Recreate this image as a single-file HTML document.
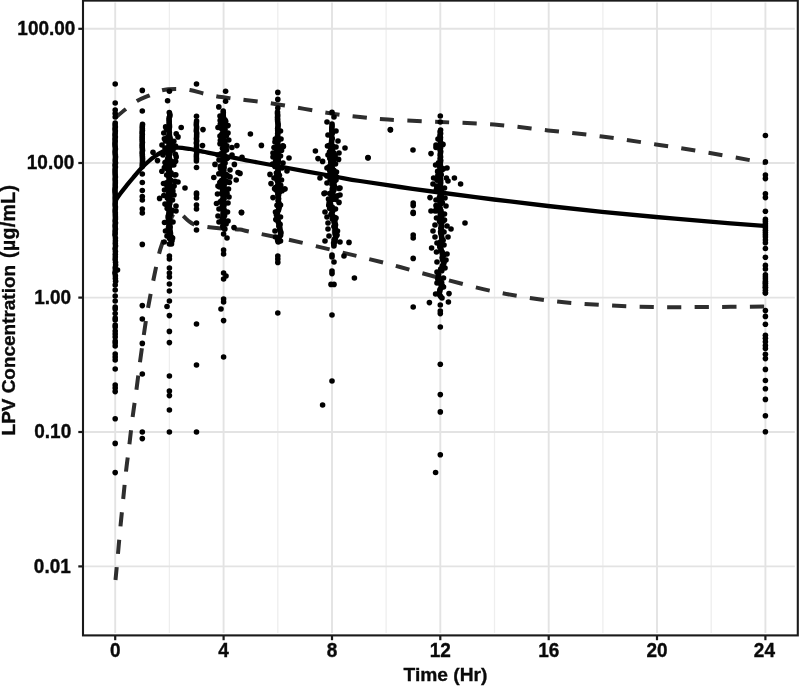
<!DOCTYPE html>
<html lang="en"><head><meta charset="utf-8"><title>LPV Concentration vs Time</title>
<style>html,body{margin:0;padding:0;background:#fff}body{width:800px;height:686px;overflow:hidden}svg{display:block}text{font-family:"Liberation Sans",Arial,Helvetica,sans-serif;font-weight:bold;fill:#0a0a0a;stroke:#0a0a0a;stroke-width:0.35px}</style></head><body>
<svg width="800" height="686" viewBox="0 0 800 686">
<rect width="800" height="686" fill="#fff"/>
<g><line x1="169.4" y1="2.5" x2="169.4" y2="633" stroke="#eeeeee" stroke-width="1.3"/><line x1="277.8" y1="2.5" x2="277.8" y2="633" stroke="#eeeeee" stroke-width="1.3"/><line x1="386.1" y1="2.5" x2="386.1" y2="633" stroke="#eeeeee" stroke-width="1.3"/><line x1="494.5" y1="2.5" x2="494.5" y2="633" stroke="#eeeeee" stroke-width="1.3"/><line x1="602.9" y1="2.5" x2="602.9" y2="633" stroke="#eeeeee" stroke-width="1.3"/><line x1="711.2" y1="2.5" x2="711.2" y2="633" stroke="#eeeeee" stroke-width="1.3"/><line x1="115.2" y1="2.5" x2="115.2" y2="633" stroke="#e3e3e3" stroke-width="1.9"/><line x1="223.6" y1="2.5" x2="223.6" y2="633" stroke="#e3e3e3" stroke-width="1.9"/><line x1="332.0" y1="2.5" x2="332.0" y2="633" stroke="#e3e3e3" stroke-width="1.9"/><line x1="440.3" y1="2.5" x2="440.3" y2="633" stroke="#e3e3e3" stroke-width="1.9"/><line x1="548.7" y1="2.5" x2="548.7" y2="633" stroke="#e3e3e3" stroke-width="1.9"/><line x1="657.0" y1="2.5" x2="657.0" y2="633" stroke="#e3e3e3" stroke-width="1.9"/><line x1="765.4" y1="2.5" x2="765.4" y2="633" stroke="#e3e3e3" stroke-width="1.9"/><line x1="84.3" y1="28.8" x2="794.8" y2="28.8" stroke="#e3e3e3" stroke-width="1.9"/><line x1="84.3" y1="163.0" x2="794.8" y2="163.0" stroke="#e3e3e3" stroke-width="1.9"/><line x1="84.3" y1="297.6" x2="794.8" y2="297.6" stroke="#e3e3e3" stroke-width="1.9"/><line x1="84.3" y1="432.0" x2="794.8" y2="432.0" stroke="#e3e3e3" stroke-width="1.9"/><line x1="84.3" y1="566.4" x2="794.8" y2="566.4" stroke="#e3e3e3" stroke-width="1.9"/></g>
<path d="M115.0,118.0C116.8,116.5 122.3,111.8 126.0,109.0C129.7,106.2 133.2,103.2 137.0,101.0C140.8,98.8 144.8,97.4 149.0,95.6C153.2,93.8 157.5,91.4 162.0,90.3C166.5,89.2 171.3,89.0 176.0,89.0C180.7,89.0 185.3,89.2 190.0,90.0C194.7,90.8 199.7,92.6 204.0,93.6C208.3,94.6 211.7,95.4 216.0,96.2C220.3,97.0 225.2,97.6 230.0,98.2C234.8,98.8 237.0,99.0 245.0,100.0C253.0,101.0 263.5,102.1 278.0,104.4C292.5,106.7 318.3,111.5 332.0,113.6C345.7,115.7 350.7,116.0 360.0,117.0C369.3,118.0 374.7,118.8 388.0,119.6C401.3,120.4 422.3,121.2 440.0,122.0C457.7,122.8 476.0,123.1 494.0,124.5C512.0,125.9 530.0,128.4 548.0,130.4C566.0,132.4 584.0,134.2 602.0,136.5C620.0,138.8 638.0,141.7 656.0,144.4C674.0,147.2 691.8,149.9 710.0,153.0C728.2,156.1 755.8,161.3 765.0,163.0" fill="none" stroke="#2e2e2e" stroke-width="4" stroke-dasharray="14.2 13.35"/>
<path d="M115.5,580.0C115.9,575.6 117.2,562.6 118.0,553.6C118.8,544.6 119.6,535.1 120.5,526.0C121.4,516.9 122.3,508.1 123.2,499.0C124.1,489.9 125.0,480.7 126.0,471.6C127.0,462.5 128.3,453.5 129.4,444.4C130.5,435.3 131.4,426.1 132.6,417.0C133.8,407.9 135.2,399.2 136.4,390.0C137.6,380.8 138.8,371.2 140.0,362.0C141.2,352.8 142.5,344.0 143.8,335.0C145.1,326.0 146.4,317.0 148.0,308.0C149.6,299.0 151.4,290.0 153.2,281.0C155.0,272.0 157.4,260.6 159.0,254.0C160.6,247.4 161.7,245.4 163.0,241.2C164.3,237.1 165.7,232.7 167.0,229.0C168.3,225.3 169.7,221.6 171.0,218.8C172.3,216.0 173.8,213.4 175.0,212.2C176.2,211.0 177.2,210.8 178.5,211.4C179.8,212.0 181.4,214.1 183.0,215.6C184.6,217.1 186.2,219.0 188.0,220.5C189.8,222.0 190.8,223.3 194.0,224.4C197.2,225.5 202.3,226.3 207.0,227.0C211.7,227.7 216.5,228.2 222.0,228.6C227.5,229.0 235.5,229.1 240.0,229.6C244.5,230.1 240.7,229.9 249.0,231.6C257.3,233.3 276.2,236.9 290.0,240.0C303.8,243.1 318.8,246.8 332.0,250.0C345.2,253.2 357.7,256.2 369.0,259.0C380.3,261.8 388.2,263.8 400.0,267.0C411.8,270.2 424.3,273.9 440.0,278.0C455.7,282.1 476.0,287.8 494.0,291.5C512.0,295.2 530.0,298.2 548.0,300.5C566.0,302.8 584.0,303.9 602.0,305.0C620.0,306.1 638.0,306.7 656.0,307.0C674.0,307.3 691.8,307.1 710.0,307.0C728.2,306.9 755.8,306.7 765.0,306.6" fill="none" stroke="#2e2e2e" stroke-width="4" stroke-dasharray="14.2 13.35" stroke-dashoffset="1.3"/>
<g fill="#000"><circle cx="115.2" cy="84.0" r="2.8"/><circle cx="115.2" cy="103.0" r="2.8"/><circle cx="115.2" cy="110.0" r="2.8"/><circle cx="115.2" cy="113.5" r="2.8"/><circle cx="115.2" cy="117.0" r="2.8"/><circle cx="115.2" cy="123.0" r="2.8"/><circle cx="115.1" cy="125.0" r="2.8"/><circle cx="115.3" cy="127.0" r="2.8"/><circle cx="115.0" cy="129.0" r="2.8"/><circle cx="115.3" cy="131.0" r="2.8"/><circle cx="115.2" cy="133.0" r="2.8"/><circle cx="115.0" cy="135.0" r="2.8"/><circle cx="115.3" cy="137.0" r="2.8"/><circle cx="115.0" cy="139.0" r="2.8"/><circle cx="115.2" cy="141.0" r="2.8"/><circle cx="115.0" cy="143.0" r="2.8"/><circle cx="115.0" cy="145.0" r="2.8"/><circle cx="115.2" cy="147.0" r="2.8"/><circle cx="115.4" cy="149.0" r="2.8"/><circle cx="115.1" cy="151.0" r="2.8"/><circle cx="115.1" cy="153.0" r="2.8"/><circle cx="115.3" cy="155.0" r="2.8"/><circle cx="115.5" cy="157.0" r="2.8"/><circle cx="115.3" cy="159.0" r="2.8"/><circle cx="115.2" cy="161.0" r="2.8"/><circle cx="115.5" cy="163.0" r="2.8"/><circle cx="115.0" cy="165.0" r="2.8"/><circle cx="115.4" cy="167.0" r="2.8"/><circle cx="115.1" cy="169.0" r="2.8"/><circle cx="115.1" cy="171.0" r="2.8"/><circle cx="115.1" cy="173.0" r="2.8"/><circle cx="115.2" cy="175.0" r="2.8"/><circle cx="115.4" cy="177.0" r="2.8"/><circle cx="115.1" cy="179.0" r="2.8"/><circle cx="115.3" cy="181.0" r="2.8"/><circle cx="115.3" cy="183.0" r="2.8"/><circle cx="115.2" cy="185.0" r="2.8"/><circle cx="115.3" cy="187.0" r="2.8"/><circle cx="115.0" cy="189.0" r="2.8"/><circle cx="115.0" cy="191.0" r="2.8"/><circle cx="115.1" cy="193.0" r="2.8"/><circle cx="115.3" cy="195.0" r="2.8"/><circle cx="115.2" cy="197.0" r="2.8"/><circle cx="115.2" cy="199.0" r="2.8"/><circle cx="115.3" cy="201.0" r="2.8"/><circle cx="115.2" cy="203.0" r="2.8"/><circle cx="115.1" cy="205.0" r="2.8"/><circle cx="115.4" cy="207.0" r="2.8"/><circle cx="115.3" cy="209.0" r="2.8"/><circle cx="115.1" cy="211.0" r="2.8"/><circle cx="115.3" cy="213.0" r="2.8"/><circle cx="115.3" cy="215.0" r="2.8"/><circle cx="115.4" cy="217.0" r="2.8"/><circle cx="115.4" cy="219.0" r="2.8"/><circle cx="115.1" cy="221.0" r="2.8"/><circle cx="115.5" cy="223.0" r="2.8"/><circle cx="115.1" cy="225.0" r="2.8"/><circle cx="115.2" cy="227.0" r="2.8"/><circle cx="115.4" cy="229.0" r="2.8"/><circle cx="115.1" cy="231.0" r="2.8"/><circle cx="115.2" cy="233.0" r="2.8"/><circle cx="115.0" cy="235.0" r="2.8"/><circle cx="115.4" cy="238.0" r="2.8"/><circle cx="115.4" cy="240.7" r="2.8"/><circle cx="115.3" cy="243.4" r="2.8"/><circle cx="115.5" cy="246.1" r="2.8"/><circle cx="115.1" cy="248.8" r="2.8"/><circle cx="115.4" cy="251.5" r="2.8"/><circle cx="115.3" cy="254.2" r="2.8"/><circle cx="115.3" cy="256.9" r="2.8"/><circle cx="115.2" cy="259.6" r="2.8"/><circle cx="115.5" cy="262.3" r="2.8"/><circle cx="115.6" cy="265.0" r="2.8"/><circle cx="115.2" cy="267.7" r="2.8"/><circle cx="115.4" cy="270.4" r="2.8"/><circle cx="114.9" cy="273.1" r="2.8"/><circle cx="115.4" cy="275.8" r="2.8"/><circle cx="115.4" cy="278.5" r="2.8"/><circle cx="115.6" cy="281.2" r="2.8"/><circle cx="115.2" cy="285.0" r="2.8"/><circle cx="115.2" cy="290.0" r="2.8"/><circle cx="115.2" cy="296.0" r="2.8"/><circle cx="115.2" cy="301.0" r="2.8"/><circle cx="115.2" cy="307.0" r="2.8"/><circle cx="115.2" cy="309.0" r="2.8"/><circle cx="115.2" cy="313.5" r="2.8"/><circle cx="115.2" cy="318.0" r="2.8"/><circle cx="115.2" cy="320.0" r="2.8"/><circle cx="115.2" cy="325.0" r="2.8"/><circle cx="115.2" cy="327.0" r="2.8"/><circle cx="115.2" cy="331.0" r="2.8"/><circle cx="115.2" cy="334.0" r="2.8"/><circle cx="115.2" cy="337.0" r="2.8"/><circle cx="115.2" cy="341.0" r="2.8"/><circle cx="115.2" cy="343.0" r="2.8"/><circle cx="115.2" cy="346.0" r="2.8"/><circle cx="115.2" cy="354.0" r="2.8"/><circle cx="115.2" cy="357.0" r="2.8"/><circle cx="115.2" cy="360.0" r="2.8"/><circle cx="115.2" cy="369.0" r="2.8"/><circle cx="115.2" cy="385.0" r="2.8"/><circle cx="115.2" cy="388.0" r="2.8"/><circle cx="115.2" cy="391.6" r="2.8"/><circle cx="115.2" cy="418.8" r="2.8"/><circle cx="115.2" cy="443.4" r="2.8"/><circle cx="115.2" cy="472.6" r="2.8"/><circle cx="117.5" cy="270.0" r="2.8"/><circle cx="142.3" cy="90.4" r="2.8"/><circle cx="142.3" cy="111.0" r="2.8"/><circle cx="142.5" cy="124.4" r="2.8"/><circle cx="142.3" cy="126.4" r="2.8"/><circle cx="142.3" cy="128.4" r="2.8"/><circle cx="142.4" cy="130.4" r="2.8"/><circle cx="142.1" cy="132.4" r="2.8"/><circle cx="142.3" cy="134.4" r="2.8"/><circle cx="142.2" cy="136.4" r="2.8"/><circle cx="142.2" cy="138.4" r="2.8"/><circle cx="142.2" cy="140.4" r="2.8"/><circle cx="142.4" cy="142.4" r="2.8"/><circle cx="142.2" cy="144.4" r="2.8"/><circle cx="142.2" cy="146.4" r="2.8"/><circle cx="142.3" cy="148.4" r="2.8"/><circle cx="142.5" cy="150.4" r="2.8"/><circle cx="142.2" cy="152.4" r="2.8"/><circle cx="142.3" cy="154.4" r="2.8"/><circle cx="142.4" cy="156.4" r="2.8"/><circle cx="142.5" cy="158.4" r="2.8"/><circle cx="142.5" cy="160.4" r="2.8"/><circle cx="142.5" cy="162.4" r="2.8"/><circle cx="142.3" cy="164.4" r="2.8"/><circle cx="142.3" cy="166.4" r="2.8"/><circle cx="142.3" cy="174.0" r="2.8"/><circle cx="142.3" cy="182.5" r="2.8"/><circle cx="142.3" cy="190.5" r="2.8"/><circle cx="142.3" cy="196.5" r="2.8"/><circle cx="142.3" cy="200.0" r="2.8"/><circle cx="142.3" cy="209.0" r="2.8"/><circle cx="142.3" cy="213.0" r="2.8"/><circle cx="142.3" cy="244.4" r="2.8"/><circle cx="142.3" cy="305.6" r="2.8"/><circle cx="142.3" cy="319.0" r="2.8"/><circle cx="142.3" cy="343.4" r="2.8"/><circle cx="142.3" cy="374.0" r="2.8"/><circle cx="142.3" cy="432.0" r="2.8"/><circle cx="142.3" cy="438.6" r="2.8"/><circle cx="169.4" cy="91.2" r="2.8"/><circle cx="167.6" cy="100.7" r="2.8"/><circle cx="169.3" cy="112.5" r="2.8"/><circle cx="169.8" cy="114.3" r="2.8"/><circle cx="169.9" cy="116.1" r="2.8"/><circle cx="169.1" cy="117.9" r="2.8"/><circle cx="169.1" cy="119.7" r="2.8"/><circle cx="169.2" cy="121.5" r="2.8"/><circle cx="169.2" cy="123.3" r="2.8"/><circle cx="169.4" cy="125.1" r="2.8"/><circle cx="169.5" cy="126.9" r="2.8"/><circle cx="169.2" cy="128.7" r="2.8"/><circle cx="168.9" cy="130.5" r="2.8"/><circle cx="169.3" cy="132.3" r="2.8"/><circle cx="169.3" cy="134.1" r="2.8"/><circle cx="169.5" cy="135.9" r="2.8"/><circle cx="169.9" cy="137.7" r="2.8"/><circle cx="169.6" cy="139.5" r="2.8"/><circle cx="169.4" cy="141.3" r="2.8"/><circle cx="169.5" cy="143.1" r="2.8"/><circle cx="169.6" cy="144.9" r="2.8"/><circle cx="169.0" cy="146.7" r="2.8"/><circle cx="169.8" cy="148.5" r="2.8"/><circle cx="169.7" cy="150.3" r="2.8"/><circle cx="169.8" cy="152.1" r="2.8"/><circle cx="169.7" cy="153.9" r="2.8"/><circle cx="169.3" cy="155.7" r="2.8"/><circle cx="169.3" cy="157.5" r="2.8"/><circle cx="169.0" cy="159.3" r="2.8"/><circle cx="169.6" cy="161.1" r="2.8"/><circle cx="169.0" cy="162.9" r="2.8"/><circle cx="169.0" cy="164.7" r="2.8"/><circle cx="169.1" cy="166.5" r="2.8"/><circle cx="169.1" cy="168.3" r="2.8"/><circle cx="169.3" cy="170.1" r="2.8"/><circle cx="169.0" cy="171.9" r="2.8"/><circle cx="168.9" cy="173.7" r="2.8"/><circle cx="169.1" cy="175.5" r="2.8"/><circle cx="169.0" cy="177.3" r="2.8"/><circle cx="169.3" cy="179.1" r="2.8"/><circle cx="169.0" cy="180.9" r="2.8"/><circle cx="169.8" cy="182.7" r="2.8"/><circle cx="169.5" cy="184.5" r="2.8"/><circle cx="169.1" cy="186.3" r="2.8"/><circle cx="169.2" cy="188.1" r="2.8"/><circle cx="169.3" cy="189.9" r="2.8"/><circle cx="169.3" cy="191.7" r="2.8"/><circle cx="169.1" cy="193.5" r="2.8"/><circle cx="169.8" cy="195.3" r="2.8"/><circle cx="169.9" cy="197.1" r="2.8"/><circle cx="169.4" cy="198.9" r="2.8"/><circle cx="169.4" cy="200.7" r="2.8"/><circle cx="169.0" cy="202.5" r="2.8"/><circle cx="169.0" cy="204.3" r="2.8"/><circle cx="169.3" cy="206.1" r="2.8"/><circle cx="169.2" cy="207.9" r="2.8"/><circle cx="169.8" cy="209.7" r="2.8"/><circle cx="169.1" cy="211.5" r="2.8"/><circle cx="169.0" cy="213.3" r="2.8"/><circle cx="169.9" cy="215.1" r="2.8"/><circle cx="169.5" cy="216.9" r="2.8"/><circle cx="169.1" cy="218.7" r="2.8"/><circle cx="169.5" cy="220.5" r="2.8"/><circle cx="169.0" cy="222.3" r="2.8"/><circle cx="169.5" cy="224.1" r="2.8"/><circle cx="169.9" cy="225.9" r="2.8"/><circle cx="169.8" cy="227.7" r="2.8"/><circle cx="169.6" cy="229.5" r="2.8"/><circle cx="169.2" cy="231.3" r="2.8"/><circle cx="169.3" cy="233.1" r="2.8"/><circle cx="169.1" cy="234.9" r="2.8"/><circle cx="169.7" cy="236.7" r="2.8"/><circle cx="169.5" cy="238.5" r="2.8"/><circle cx="169.8" cy="144.1" r="2.8"/><circle cx="167.3" cy="186.4" r="2.8"/><circle cx="174.1" cy="186.0" r="2.8"/><circle cx="169.0" cy="186.9" r="2.8"/><circle cx="169.3" cy="165.3" r="2.8"/><circle cx="167.7" cy="153.6" r="2.8"/><circle cx="170.0" cy="148.1" r="2.8"/><circle cx="169.5" cy="146.7" r="2.8"/><circle cx="167.3" cy="160.2" r="2.8"/><circle cx="163.8" cy="195.5" r="2.8"/><circle cx="175.4" cy="154.3" r="2.8"/><circle cx="169.0" cy="143.9" r="2.8"/><circle cx="169.7" cy="142.7" r="2.8"/><circle cx="171.0" cy="172.9" r="2.8"/><circle cx="173.2" cy="162.5" r="2.8"/><circle cx="166.7" cy="175.0" r="2.8"/><circle cx="169.7" cy="175.6" r="2.8"/><circle cx="168.5" cy="193.5" r="2.8"/><circle cx="170.2" cy="162.4" r="2.8"/><circle cx="165.5" cy="140.9" r="2.8"/><circle cx="170.0" cy="185.7" r="2.8"/><circle cx="167.3" cy="198.0" r="2.8"/><circle cx="167.5" cy="196.2" r="2.8"/><circle cx="170.9" cy="180.2" r="2.8"/><circle cx="170.0" cy="138.9" r="2.8"/><circle cx="170.5" cy="193.1" r="2.8"/><circle cx="169.9" cy="187.5" r="2.8"/><circle cx="168.2" cy="198.6" r="2.8"/><circle cx="168.2" cy="167.5" r="2.8"/><circle cx="167.6" cy="137.4" r="2.8"/><circle cx="175.8" cy="174.8" r="2.8"/><circle cx="170.0" cy="165.9" r="2.8"/><circle cx="171.8" cy="190.8" r="2.8"/><circle cx="168.4" cy="187.5" r="2.8"/><circle cx="169.9" cy="149.1" r="2.8"/><circle cx="171.2" cy="145.3" r="2.8"/><circle cx="167.8" cy="158.2" r="2.8"/><circle cx="168.5" cy="137.4" r="2.8"/><circle cx="171.3" cy="161.0" r="2.8"/><circle cx="168.2" cy="170.0" r="2.8"/><circle cx="171.5" cy="194.1" r="2.8"/><circle cx="168.0" cy="164.1" r="2.8"/><circle cx="166.6" cy="129.3" r="2.8"/><circle cx="168.8" cy="159.7" r="2.8"/><circle cx="169.5" cy="185.5" r="2.8"/><circle cx="169.6" cy="140.4" r="2.8"/><circle cx="165.6" cy="168.1" r="2.8"/><circle cx="170.1" cy="151.5" r="2.8"/><circle cx="166.4" cy="184.5" r="2.8"/><circle cx="169.1" cy="135.6" r="2.8"/><circle cx="167.7" cy="147.9" r="2.8"/><circle cx="168.8" cy="183.6" r="2.8"/><circle cx="166.4" cy="182.7" r="2.8"/><circle cx="169.3" cy="193.7" r="2.8"/><circle cx="166.3" cy="164.4" r="2.8"/><circle cx="170.6" cy="164.9" r="2.8"/><circle cx="168.5" cy="166.4" r="2.8"/><circle cx="167.0" cy="162.4" r="2.8"/><circle cx="172.9" cy="191.1" r="2.8"/><circle cx="168.1" cy="195.8" r="2.8"/><circle cx="169.2" cy="195.9" r="2.8"/><circle cx="172.5" cy="188.5" r="2.8"/><circle cx="170.2" cy="200.0" r="2.8"/><circle cx="169.5" cy="201.7" r="2.8"/><circle cx="169.8" cy="203.4" r="2.8"/><circle cx="166.8" cy="205.1" r="2.8"/><circle cx="168.8" cy="206.8" r="2.8"/><circle cx="167.2" cy="208.5" r="2.8"/><circle cx="172.2" cy="210.2" r="2.8"/><circle cx="170.5" cy="211.9" r="2.8"/><circle cx="170.9" cy="213.6" r="2.8"/><circle cx="168.5" cy="215.3" r="2.8"/><circle cx="168.1" cy="217.0" r="2.8"/><circle cx="168.5" cy="218.7" r="2.8"/><circle cx="168.5" cy="220.4" r="2.8"/><circle cx="169.3" cy="222.1" r="2.8"/><circle cx="169.3" cy="223.8" r="2.8"/><circle cx="169.1" cy="225.5" r="2.8"/><circle cx="169.9" cy="227.2" r="2.8"/><circle cx="168.3" cy="228.9" r="2.8"/><circle cx="169.9" cy="230.6" r="2.8"/><circle cx="170.3" cy="232.3" r="2.8"/><circle cx="170.5" cy="234.0" r="2.8"/><circle cx="169.2" cy="235.7" r="2.8"/><circle cx="171.6" cy="237.4" r="2.8"/><circle cx="170.7" cy="239.1" r="2.8"/><circle cx="172.0" cy="240.8" r="2.8"/><circle cx="171.2" cy="242.5" r="2.8"/><circle cx="169.4" cy="244.0" r="2.8"/><circle cx="169.4" cy="256.0" r="2.8"/><circle cx="169.4" cy="259.0" r="2.8"/><circle cx="169.4" cy="268.0" r="2.8"/><circle cx="169.4" cy="273.0" r="2.8"/><circle cx="169.4" cy="277.0" r="2.8"/><circle cx="169.4" cy="284.0" r="2.8"/><circle cx="169.4" cy="291.0" r="2.8"/><circle cx="169.4" cy="301.0" r="2.8"/><circle cx="169.4" cy="315.6" r="2.8"/><circle cx="169.4" cy="331.4" r="2.8"/><circle cx="169.4" cy="342.6" r="2.8"/><circle cx="169.4" cy="376.0" r="2.8"/><circle cx="169.4" cy="391.0" r="2.8"/><circle cx="169.4" cy="395.6" r="2.8"/><circle cx="169.4" cy="410.0" r="2.8"/><circle cx="169.4" cy="432.0" r="2.8"/><circle cx="167.0" cy="306.5" r="2.8"/><circle cx="165.6" cy="126.9" r="2.8"/><circle cx="163.8" cy="133.0" r="2.8"/><circle cx="181.2" cy="127.5" r="2.8"/><circle cx="176.2" cy="133.8" r="2.8"/><circle cx="178.0" cy="136.9" r="2.8"/><circle cx="164.4" cy="138.8" r="2.8"/><circle cx="173.8" cy="141.2" r="2.8"/><circle cx="153.0" cy="152.2" r="2.8"/><circle cx="157.5" cy="160.6" r="2.8"/><circle cx="163.0" cy="155.0" r="2.8"/><circle cx="176.2" cy="156.9" r="2.8"/><circle cx="175.6" cy="161.2" r="2.8"/><circle cx="173.8" cy="165.0" r="2.8"/><circle cx="161.9" cy="171.2" r="2.8"/><circle cx="164.4" cy="167.5" r="2.8"/><circle cx="174.4" cy="175.0" r="2.8"/><circle cx="175.0" cy="181.2" r="2.8"/><circle cx="178.0" cy="182.0" r="2.8"/><circle cx="165.0" cy="162.5" r="2.8"/><circle cx="185.0" cy="188.0" r="2.8"/><circle cx="159.6" cy="198.4" r="2.8"/><circle cx="176.0" cy="206.0" r="2.8"/><circle cx="176.0" cy="211.0" r="2.8"/><circle cx="164.5" cy="190.0" r="2.8"/><circle cx="173.5" cy="186.0" r="2.8"/><circle cx="163.5" cy="183.5" r="2.8"/><circle cx="174.0" cy="195.0" r="2.8"/><circle cx="165.0" cy="204.0" r="2.8"/><circle cx="172.5" cy="200.0" r="2.8"/><circle cx="164.5" cy="222.5" r="2.8"/><circle cx="173.0" cy="222.0" r="2.8"/><circle cx="165.5" cy="231.0" r="2.8"/><circle cx="172.6" cy="238.0" r="2.8"/><circle cx="167.0" cy="236.0" r="2.8"/><circle cx="164.2" cy="242.0" r="2.8"/><circle cx="171.5" cy="244.0" r="2.8"/><circle cx="165.0" cy="148.0" r="2.8"/><circle cx="173.0" cy="150.0" r="2.8"/><circle cx="162.0" cy="145.0" r="2.8"/><circle cx="175.5" cy="146.0" r="2.8"/><circle cx="196.5" cy="84.0" r="2.8"/><circle cx="196.5" cy="116.2" r="2.8"/><circle cx="196.5" cy="167.5" r="2.8"/><circle cx="196.5" cy="193.0" r="2.8"/><circle cx="196.5" cy="194.5" r="2.8"/><circle cx="196.5" cy="198.0" r="2.8"/><circle cx="196.5" cy="205.0" r="2.8"/><circle cx="196.5" cy="209.0" r="2.8"/><circle cx="196.5" cy="223.0" r="2.8"/><circle cx="196.5" cy="230.0" r="2.8"/><circle cx="196.5" cy="324.0" r="2.8"/><circle cx="196.5" cy="365.0" r="2.8"/><circle cx="196.5" cy="432.0" r="2.8"/><circle cx="196.6" cy="121.0" r="2.8"/><circle cx="196.4" cy="123.0" r="2.8"/><circle cx="196.3" cy="125.0" r="2.8"/><circle cx="196.6" cy="127.0" r="2.8"/><circle cx="196.5" cy="129.0" r="2.8"/><circle cx="196.3" cy="131.0" r="2.8"/><circle cx="196.7" cy="133.0" r="2.8"/><circle cx="196.6" cy="135.0" r="2.8"/><circle cx="196.6" cy="137.0" r="2.8"/><circle cx="196.4" cy="139.0" r="2.8"/><circle cx="196.7" cy="141.0" r="2.8"/><circle cx="196.3" cy="143.0" r="2.8"/><circle cx="196.7" cy="145.0" r="2.8"/><circle cx="196.5" cy="147.0" r="2.8"/><circle cx="196.5" cy="149.0" r="2.8"/><circle cx="196.5" cy="151.0" r="2.8"/><circle cx="196.7" cy="153.0" r="2.8"/><circle cx="196.4" cy="155.0" r="2.8"/><circle cx="196.4" cy="157.0" r="2.8"/><circle cx="196.5" cy="159.0" r="2.8"/><circle cx="196.4" cy="161.0" r="2.8"/><circle cx="203.0" cy="129.6" r="2.8"/><circle cx="202.5" cy="145.6" r="2.8"/><circle cx="225.6" cy="91.2" r="2.8"/><circle cx="225.6" cy="101.2" r="2.8"/><circle cx="223.2" cy="111.0" r="2.8"/><circle cx="223.3" cy="112.8" r="2.8"/><circle cx="223.2" cy="114.6" r="2.8"/><circle cx="223.3" cy="116.4" r="2.8"/><circle cx="223.4" cy="118.2" r="2.8"/><circle cx="223.4" cy="120.0" r="2.8"/><circle cx="223.9" cy="121.8" r="2.8"/><circle cx="223.4" cy="123.6" r="2.8"/><circle cx="223.6" cy="125.4" r="2.8"/><circle cx="223.3" cy="127.2" r="2.8"/><circle cx="223.5" cy="129.0" r="2.8"/><circle cx="223.1" cy="130.8" r="2.8"/><circle cx="223.4" cy="132.6" r="2.8"/><circle cx="223.1" cy="134.4" r="2.8"/><circle cx="223.8" cy="136.2" r="2.8"/><circle cx="223.7" cy="138.0" r="2.8"/><circle cx="223.3" cy="139.8" r="2.8"/><circle cx="223.6" cy="141.6" r="2.8"/><circle cx="224.0" cy="143.4" r="2.8"/><circle cx="223.2" cy="145.2" r="2.8"/><circle cx="223.9" cy="147.0" r="2.8"/><circle cx="223.5" cy="148.8" r="2.8"/><circle cx="223.6" cy="150.6" r="2.8"/><circle cx="223.9" cy="152.4" r="2.8"/><circle cx="223.5" cy="154.2" r="2.8"/><circle cx="223.6" cy="156.0" r="2.8"/><circle cx="223.8" cy="157.8" r="2.8"/><circle cx="224.1" cy="159.6" r="2.8"/><circle cx="223.5" cy="161.4" r="2.8"/><circle cx="223.9" cy="163.2" r="2.8"/><circle cx="223.8" cy="165.0" r="2.8"/><circle cx="223.7" cy="166.8" r="2.8"/><circle cx="223.5" cy="168.6" r="2.8"/><circle cx="223.5" cy="170.4" r="2.8"/><circle cx="223.2" cy="172.2" r="2.8"/><circle cx="223.2" cy="174.0" r="2.8"/><circle cx="223.2" cy="175.8" r="2.8"/><circle cx="223.9" cy="177.6" r="2.8"/><circle cx="223.4" cy="179.4" r="2.8"/><circle cx="223.3" cy="181.2" r="2.8"/><circle cx="223.2" cy="183.0" r="2.8"/><circle cx="224.0" cy="184.8" r="2.8"/><circle cx="224.0" cy="186.6" r="2.8"/><circle cx="223.8" cy="188.4" r="2.8"/><circle cx="223.4" cy="190.2" r="2.8"/><circle cx="223.4" cy="192.0" r="2.8"/><circle cx="223.4" cy="193.8" r="2.8"/><circle cx="223.6" cy="195.6" r="2.8"/><circle cx="223.3" cy="197.4" r="2.8"/><circle cx="223.6" cy="199.2" r="2.8"/><circle cx="223.4" cy="201.0" r="2.8"/><circle cx="224.1" cy="202.8" r="2.8"/><circle cx="224.1" cy="204.6" r="2.8"/><circle cx="223.7" cy="206.4" r="2.8"/><circle cx="223.4" cy="208.2" r="2.8"/><circle cx="224.1" cy="210.0" r="2.8"/><circle cx="223.4" cy="211.8" r="2.8"/><circle cx="223.5" cy="213.6" r="2.8"/><circle cx="223.1" cy="215.4" r="2.8"/><circle cx="223.5" cy="217.2" r="2.8"/><circle cx="223.6" cy="219.0" r="2.8"/><circle cx="223.6" cy="220.8" r="2.8"/><circle cx="223.3" cy="222.6" r="2.8"/><circle cx="223.6" cy="224.4" r="2.8"/><circle cx="223.1" cy="226.2" r="2.8"/><circle cx="223.4" cy="228.0" r="2.8"/><circle cx="225.7" cy="121.2" r="2.8"/><circle cx="224.9" cy="119.7" r="2.8"/><circle cx="223.0" cy="163.1" r="2.8"/><circle cx="225.3" cy="158.7" r="2.8"/><circle cx="223.6" cy="173.1" r="2.8"/><circle cx="220.1" cy="185.7" r="2.8"/><circle cx="222.0" cy="193.8" r="2.8"/><circle cx="225.0" cy="129.5" r="2.8"/><circle cx="223.1" cy="121.4" r="2.8"/><circle cx="220.2" cy="182.3" r="2.8"/><circle cx="226.2" cy="174.5" r="2.8"/><circle cx="221.5" cy="180.5" r="2.8"/><circle cx="225.5" cy="156.8" r="2.8"/><circle cx="225.9" cy="182.3" r="2.8"/><circle cx="225.1" cy="163.0" r="2.8"/><circle cx="219.4" cy="186.7" r="2.8"/><circle cx="222.1" cy="135.7" r="2.8"/><circle cx="220.2" cy="120.4" r="2.8"/><circle cx="225.1" cy="126.1" r="2.8"/><circle cx="225.3" cy="182.4" r="2.8"/><circle cx="220.5" cy="166.2" r="2.8"/><circle cx="222.4" cy="170.4" r="2.8"/><circle cx="223.4" cy="179.4" r="2.8"/><circle cx="223.6" cy="175.6" r="2.8"/><circle cx="220.6" cy="168.8" r="2.8"/><circle cx="223.6" cy="123.1" r="2.8"/><circle cx="223.5" cy="123.7" r="2.8"/><circle cx="221.8" cy="138.4" r="2.8"/><circle cx="223.4" cy="175.0" r="2.8"/><circle cx="222.0" cy="193.1" r="2.8"/><circle cx="221.3" cy="154.9" r="2.8"/><circle cx="223.7" cy="170.6" r="2.8"/><circle cx="224.0" cy="167.5" r="2.8"/><circle cx="220.3" cy="124.0" r="2.8"/><circle cx="224.7" cy="175.2" r="2.8"/><circle cx="225.1" cy="141.4" r="2.8"/><circle cx="223.3" cy="122.7" r="2.8"/><circle cx="223.5" cy="138.7" r="2.8"/><circle cx="221.9" cy="170.0" r="2.8"/><circle cx="220.4" cy="140.4" r="2.8"/><circle cx="220.9" cy="153.9" r="2.8"/><circle cx="223.3" cy="127.1" r="2.8"/><circle cx="224.9" cy="193.3" r="2.8"/><circle cx="222.6" cy="190.1" r="2.8"/><circle cx="226.3" cy="181.1" r="2.8"/><circle cx="223.9" cy="192.5" r="2.8"/><circle cx="221.8" cy="134.2" r="2.8"/><circle cx="224.2" cy="190.8" r="2.8"/><circle cx="224.4" cy="128.9" r="2.8"/><circle cx="226.7" cy="158.4" r="2.8"/><circle cx="224.8" cy="181.2" r="2.8"/><circle cx="223.2" cy="157.2" r="2.8"/><circle cx="226.4" cy="135.8" r="2.8"/><circle cx="221.2" cy="187.1" r="2.8"/><circle cx="223.1" cy="118.3" r="2.8"/><circle cx="223.7" cy="155.9" r="2.8"/><circle cx="221.7" cy="128.8" r="2.8"/><circle cx="224.2" cy="144.5" r="2.8"/><circle cx="221.8" cy="118.1" r="2.8"/><circle cx="227.8" cy="175.8" r="2.8"/><circle cx="224.3" cy="189.3" r="2.8"/><circle cx="222.6" cy="172.9" r="2.8"/><circle cx="225.2" cy="146.7" r="2.8"/><circle cx="222.5" cy="148.3" r="2.8"/><circle cx="226.8" cy="145.8" r="2.8"/><circle cx="223.6" cy="151.0" r="2.8"/><circle cx="223.9" cy="190.0" r="2.8"/><circle cx="226.3" cy="191.7" r="2.8"/><circle cx="227.0" cy="193.4" r="2.8"/><circle cx="225.0" cy="195.1" r="2.8"/><circle cx="223.4" cy="196.8" r="2.8"/><circle cx="224.0" cy="198.5" r="2.8"/><circle cx="222.0" cy="200.2" r="2.8"/><circle cx="220.2" cy="201.9" r="2.8"/><circle cx="222.9" cy="203.6" r="2.8"/><circle cx="223.1" cy="205.3" r="2.8"/><circle cx="222.1" cy="207.0" r="2.8"/><circle cx="221.7" cy="208.7" r="2.8"/><circle cx="223.8" cy="210.4" r="2.8"/><circle cx="223.6" cy="212.1" r="2.8"/><circle cx="223.2" cy="213.8" r="2.8"/><circle cx="224.6" cy="215.5" r="2.8"/><circle cx="223.4" cy="217.2" r="2.8"/><circle cx="222.3" cy="218.9" r="2.8"/><circle cx="222.0" cy="220.6" r="2.8"/><circle cx="223.5" cy="222.3" r="2.8"/><circle cx="226.1" cy="224.0" r="2.8"/><circle cx="223.0" cy="225.7" r="2.8"/><circle cx="223.3" cy="227.4" r="2.8"/><circle cx="224.9" cy="229.1" r="2.8"/><circle cx="223.6" cy="234.0" r="2.8"/><circle cx="223.6" cy="250.0" r="2.8"/><circle cx="223.6" cy="254.0" r="2.8"/><circle cx="223.6" cy="273.0" r="2.8"/><circle cx="223.6" cy="279.0" r="2.8"/><circle cx="223.6" cy="299.0" r="2.8"/><circle cx="223.6" cy="302.0" r="2.8"/><circle cx="223.6" cy="320.6" r="2.8"/><circle cx="223.6" cy="357.0" r="2.8"/><circle cx="227.0" cy="238.0" r="2.8"/><circle cx="226.0" cy="276.0" r="2.8"/><circle cx="221.0" cy="309.0" r="2.8"/><circle cx="218.8" cy="106.9" r="2.8"/><circle cx="220.0" cy="116.0" r="2.8"/><circle cx="228.0" cy="125.6" r="2.8"/><circle cx="218.0" cy="127.5" r="2.8"/><circle cx="228.0" cy="133.0" r="2.8"/><circle cx="220.0" cy="136.0" r="2.8"/><circle cx="228.8" cy="140.0" r="2.8"/><circle cx="220.0" cy="143.8" r="2.8"/><circle cx="236.9" cy="145.6" r="2.8"/><circle cx="231.9" cy="147.5" r="2.8"/><circle cx="218.0" cy="155.0" r="2.8"/><circle cx="215.0" cy="164.4" r="2.8"/><circle cx="234.4" cy="164.4" r="2.8"/><circle cx="230.0" cy="170.0" r="2.8"/><circle cx="238.0" cy="172.5" r="2.8"/><circle cx="218.8" cy="173.8" r="2.8"/><circle cx="213.8" cy="177.5" r="2.8"/><circle cx="230.0" cy="176.9" r="2.8"/><circle cx="236.2" cy="180.0" r="2.8"/><circle cx="220.0" cy="182.5" r="2.8"/><circle cx="229.4" cy="182.5" r="2.8"/><circle cx="241.4" cy="212.4" r="2.8"/><circle cx="234.0" cy="227.6" r="2.8"/><circle cx="218.0" cy="186.0" r="2.8"/><circle cx="228.5" cy="189.0" r="2.8"/><circle cx="217.5" cy="194.0" r="2.8"/><circle cx="229.0" cy="197.0" r="2.8"/><circle cx="216.5" cy="203.5" r="2.8"/><circle cx="228.0" cy="203.0" r="2.8"/><circle cx="219.0" cy="209.0" r="2.8"/><circle cx="227.5" cy="212.0" r="2.8"/><circle cx="218.0" cy="216.0" r="2.8"/><circle cx="219.0" cy="222.0" r="2.8"/><circle cx="228.0" cy="221.0" r="2.8"/><circle cx="226.5" cy="150.0" r="2.8"/><circle cx="219.0" cy="160.0" r="2.8"/><circle cx="227.5" cy="158.0" r="2.8"/><circle cx="220.5" cy="167.0" r="2.8"/><circle cx="232.0" cy="155.0" r="2.8"/><circle cx="277.8" cy="92.4" r="2.8"/><circle cx="277.8" cy="99.4" r="2.8"/><circle cx="277.8" cy="108.0" r="2.8"/><circle cx="277.5" cy="112.0" r="2.8"/><circle cx="277.5" cy="113.8" r="2.8"/><circle cx="277.7" cy="115.6" r="2.8"/><circle cx="277.5" cy="117.4" r="2.8"/><circle cx="277.6" cy="119.2" r="2.8"/><circle cx="277.6" cy="121.0" r="2.8"/><circle cx="277.8" cy="122.8" r="2.8"/><circle cx="278.1" cy="124.6" r="2.8"/><circle cx="278.0" cy="126.4" r="2.8"/><circle cx="277.7" cy="128.2" r="2.8"/><circle cx="277.7" cy="130.0" r="2.8"/><circle cx="277.8" cy="131.8" r="2.8"/><circle cx="277.7" cy="133.6" r="2.8"/><circle cx="277.7" cy="135.4" r="2.8"/><circle cx="277.4" cy="137.2" r="2.8"/><circle cx="277.6" cy="139.0" r="2.8"/><circle cx="278.2" cy="140.8" r="2.8"/><circle cx="277.5" cy="142.6" r="2.8"/><circle cx="277.8" cy="144.4" r="2.8"/><circle cx="277.9" cy="146.2" r="2.8"/><circle cx="278.1" cy="148.0" r="2.8"/><circle cx="277.6" cy="149.8" r="2.8"/><circle cx="277.6" cy="151.6" r="2.8"/><circle cx="277.6" cy="153.4" r="2.8"/><circle cx="277.7" cy="155.2" r="2.8"/><circle cx="277.7" cy="157.0" r="2.8"/><circle cx="278.2" cy="158.8" r="2.8"/><circle cx="278.1" cy="160.6" r="2.8"/><circle cx="278.1" cy="162.4" r="2.8"/><circle cx="277.4" cy="164.2" r="2.8"/><circle cx="277.4" cy="166.0" r="2.8"/><circle cx="278.0" cy="167.8" r="2.8"/><circle cx="278.1" cy="169.6" r="2.8"/><circle cx="277.8" cy="171.4" r="2.8"/><circle cx="277.9" cy="173.2" r="2.8"/><circle cx="277.4" cy="175.0" r="2.8"/><circle cx="277.7" cy="176.8" r="2.8"/><circle cx="278.1" cy="178.6" r="2.8"/><circle cx="278.1" cy="180.4" r="2.8"/><circle cx="278.1" cy="182.2" r="2.8"/><circle cx="278.2" cy="184.0" r="2.8"/><circle cx="277.6" cy="185.8" r="2.8"/><circle cx="277.5" cy="187.6" r="2.8"/><circle cx="277.5" cy="189.4" r="2.8"/><circle cx="274.6" cy="188.7" r="2.8"/><circle cx="277.3" cy="176.1" r="2.8"/><circle cx="275.6" cy="161.1" r="2.8"/><circle cx="274.9" cy="166.4" r="2.8"/><circle cx="281.3" cy="148.3" r="2.8"/><circle cx="278.7" cy="187.4" r="2.8"/><circle cx="276.7" cy="142.3" r="2.8"/><circle cx="276.4" cy="149.4" r="2.8"/><circle cx="275.7" cy="141.4" r="2.8"/><circle cx="275.3" cy="139.0" r="2.8"/><circle cx="275.0" cy="157.1" r="2.8"/><circle cx="277.4" cy="147.7" r="2.8"/><circle cx="277.5" cy="152.2" r="2.8"/><circle cx="277.6" cy="161.3" r="2.8"/><circle cx="280.7" cy="185.4" r="2.8"/><circle cx="277.0" cy="162.1" r="2.8"/><circle cx="277.9" cy="189.8" r="2.8"/><circle cx="279.4" cy="175.2" r="2.8"/><circle cx="277.6" cy="163.4" r="2.8"/><circle cx="278.2" cy="173.4" r="2.8"/><circle cx="276.4" cy="173.0" r="2.8"/><circle cx="278.6" cy="187.7" r="2.8"/><circle cx="277.9" cy="154.3" r="2.8"/><circle cx="278.3" cy="159.0" r="2.8"/><circle cx="277.2" cy="180.4" r="2.8"/><circle cx="276.5" cy="177.1" r="2.8"/><circle cx="276.4" cy="190.3" r="2.8"/><circle cx="277.7" cy="152.8" r="2.8"/><circle cx="278.4" cy="147.6" r="2.8"/><circle cx="276.4" cy="178.3" r="2.8"/><circle cx="276.3" cy="163.3" r="2.8"/><circle cx="282.8" cy="145.7" r="2.8"/><circle cx="278.2" cy="172.9" r="2.8"/><circle cx="279.9" cy="189.1" r="2.8"/><circle cx="279.1" cy="147.1" r="2.8"/><circle cx="279.5" cy="190.5" r="2.8"/><circle cx="278.2" cy="138.4" r="2.8"/><circle cx="278.3" cy="157.4" r="2.8"/><circle cx="278.2" cy="186.0" r="2.8"/><circle cx="275.3" cy="187.6" r="2.8"/><circle cx="279.0" cy="189.2" r="2.8"/><circle cx="282.1" cy="190.8" r="2.8"/><circle cx="279.3" cy="192.4" r="2.8"/><circle cx="277.8" cy="194.0" r="2.8"/><circle cx="278.5" cy="195.6" r="2.8"/><circle cx="278.0" cy="197.2" r="2.8"/><circle cx="278.6" cy="198.8" r="2.8"/><circle cx="278.1" cy="200.4" r="2.8"/><circle cx="278.6" cy="202.0" r="2.8"/><circle cx="278.9" cy="203.6" r="2.8"/><circle cx="277.0" cy="205.2" r="2.8"/><circle cx="279.3" cy="206.8" r="2.8"/><circle cx="278.8" cy="208.4" r="2.8"/><circle cx="278.5" cy="210.0" r="2.8"/><circle cx="277.7" cy="211.6" r="2.8"/><circle cx="277.3" cy="213.2" r="2.8"/><circle cx="276.4" cy="214.8" r="2.8"/><circle cx="277.3" cy="216.4" r="2.8"/><circle cx="277.6" cy="218.0" r="2.8"/><circle cx="275.8" cy="219.6" r="2.8"/><circle cx="278.2" cy="221.2" r="2.8"/><circle cx="278.5" cy="222.8" r="2.8"/><circle cx="280.1" cy="224.4" r="2.8"/><circle cx="278.8" cy="226.0" r="2.8"/><circle cx="279.7" cy="227.6" r="2.8"/><circle cx="279.8" cy="229.2" r="2.8"/><circle cx="280.1" cy="230.8" r="2.8"/><circle cx="280.9" cy="232.4" r="2.8"/><circle cx="280.6" cy="234.0" r="2.8"/><circle cx="280.5" cy="235.6" r="2.8"/><circle cx="279.0" cy="237.2" r="2.8"/><circle cx="278.7" cy="238.8" r="2.8"/><circle cx="277.7" cy="240.4" r="2.8"/><circle cx="278.2" cy="242.0" r="2.8"/><circle cx="277.8" cy="256.0" r="2.8"/><circle cx="277.8" cy="259.0" r="2.8"/><circle cx="277.8" cy="262.4" r="2.8"/><circle cx="277.8" cy="313.0" r="2.8"/><circle cx="250.4" cy="134.0" r="2.8"/><circle cx="261.4" cy="145.4" r="2.8"/><circle cx="242.0" cy="157.4" r="2.8"/><circle cx="240.0" cy="173.4" r="2.8"/><circle cx="289.0" cy="158.0" r="2.8"/><circle cx="270.0" cy="174.4" r="2.8"/><circle cx="271.0" cy="183.6" r="2.8"/><circle cx="285.0" cy="189.0" r="2.8"/><circle cx="287.0" cy="171.0" r="2.8"/><circle cx="283.4" cy="146.4" r="2.8"/><circle cx="280.5" cy="131.0" r="2.8"/><circle cx="281.0" cy="139.0" r="2.8"/><circle cx="275.0" cy="142.0" r="2.8"/><circle cx="273.0" cy="153.0" r="2.8"/><circle cx="273.0" cy="157.0" r="2.8"/><circle cx="280.5" cy="156.0" r="2.8"/><circle cx="283.0" cy="163.0" r="2.8"/><circle cx="284.4" cy="189.0" r="2.8"/><circle cx="273.0" cy="197.6" r="2.8"/><circle cx="280.5" cy="205.0" r="2.8"/><circle cx="275.5" cy="212.0" r="2.8"/><circle cx="280.5" cy="217.0" r="2.8"/><circle cx="275.0" cy="231.0" r="2.8"/><circle cx="275.5" cy="237.0" r="2.8"/><circle cx="280.5" cy="241.0" r="2.8"/><circle cx="241.6" cy="212.6" r="2.8"/><circle cx="272.5" cy="164.0" r="2.8"/><circle cx="282.0" cy="168.0" r="2.8"/><circle cx="274.0" cy="178.0" r="2.8"/><circle cx="281.5" cy="180.0" r="2.8"/><circle cx="274.0" cy="147.5" r="2.8"/><circle cx="281.5" cy="150.5" r="2.8"/><circle cx="332.0" cy="112.4" r="2.8"/><circle cx="332.0" cy="124.0" r="2.8"/><circle cx="334.0" cy="117.0" r="2.8"/><circle cx="327.0" cy="122.0" r="2.8"/><circle cx="332.1" cy="126.0" r="2.8"/><circle cx="331.8" cy="127.8" r="2.8"/><circle cx="331.8" cy="129.6" r="2.8"/><circle cx="331.8" cy="131.4" r="2.8"/><circle cx="332.3" cy="133.2" r="2.8"/><circle cx="331.5" cy="135.0" r="2.8"/><circle cx="331.7" cy="136.8" r="2.8"/><circle cx="332.2" cy="138.6" r="2.8"/><circle cx="331.7" cy="140.4" r="2.8"/><circle cx="331.5" cy="142.2" r="2.8"/><circle cx="331.5" cy="144.0" r="2.8"/><circle cx="332.0" cy="145.8" r="2.8"/><circle cx="331.8" cy="147.6" r="2.8"/><circle cx="332.5" cy="149.4" r="2.8"/><circle cx="332.4" cy="151.2" r="2.8"/><circle cx="332.5" cy="153.0" r="2.8"/><circle cx="331.7" cy="154.8" r="2.8"/><circle cx="331.6" cy="156.6" r="2.8"/><circle cx="331.6" cy="158.4" r="2.8"/><circle cx="332.0" cy="160.2" r="2.8"/><circle cx="332.2" cy="162.0" r="2.8"/><circle cx="331.9" cy="163.8" r="2.8"/><circle cx="331.7" cy="165.6" r="2.8"/><circle cx="331.9" cy="167.4" r="2.8"/><circle cx="332.1" cy="169.2" r="2.8"/><circle cx="332.1" cy="171.0" r="2.8"/><circle cx="332.2" cy="172.8" r="2.8"/><circle cx="332.3" cy="174.6" r="2.8"/><circle cx="332.1" cy="176.4" r="2.8"/><circle cx="335.0" cy="157.6" r="2.8"/><circle cx="334.9" cy="174.0" r="2.8"/><circle cx="329.5" cy="152.0" r="2.8"/><circle cx="334.5" cy="154.8" r="2.8"/><circle cx="332.0" cy="193.1" r="2.8"/><circle cx="333.2" cy="174.7" r="2.8"/><circle cx="331.0" cy="199.5" r="2.8"/><circle cx="333.9" cy="170.4" r="2.8"/><circle cx="332.4" cy="179.2" r="2.8"/><circle cx="335.9" cy="199.5" r="2.8"/><circle cx="334.0" cy="189.1" r="2.8"/><circle cx="333.5" cy="190.4" r="2.8"/><circle cx="332.5" cy="157.6" r="2.8"/><circle cx="331.6" cy="147.2" r="2.8"/><circle cx="334.2" cy="175.0" r="2.8"/><circle cx="337.5" cy="195.8" r="2.8"/><circle cx="328.9" cy="166.9" r="2.8"/><circle cx="335.1" cy="155.6" r="2.8"/><circle cx="332.9" cy="146.3" r="2.8"/><circle cx="326.7" cy="175.8" r="2.8"/><circle cx="330.8" cy="162.1" r="2.8"/><circle cx="330.9" cy="148.5" r="2.8"/><circle cx="332.5" cy="176.0" r="2.8"/><circle cx="333.6" cy="179.1" r="2.8"/><circle cx="332.1" cy="159.6" r="2.8"/><circle cx="332.3" cy="180.7" r="2.8"/><circle cx="332.7" cy="152.2" r="2.8"/><circle cx="333.7" cy="187.7" r="2.8"/><circle cx="331.2" cy="146.1" r="2.8"/><circle cx="331.7" cy="163.7" r="2.8"/><circle cx="329.0" cy="145.5" r="2.8"/><circle cx="331.0" cy="149.8" r="2.8"/><circle cx="331.2" cy="157.0" r="2.8"/><circle cx="329.8" cy="158.5" r="2.8"/><circle cx="333.8" cy="174.0" r="2.8"/><circle cx="331.4" cy="161.4" r="2.8"/><circle cx="331.2" cy="150.0" r="2.8"/><circle cx="331.5" cy="151.5" r="2.8"/><circle cx="333.8" cy="153.0" r="2.8"/><circle cx="332.3" cy="154.5" r="2.8"/><circle cx="332.4" cy="156.0" r="2.8"/><circle cx="332.3" cy="157.5" r="2.8"/><circle cx="333.1" cy="159.0" r="2.8"/><circle cx="333.8" cy="160.5" r="2.8"/><circle cx="331.3" cy="162.0" r="2.8"/><circle cx="332.0" cy="163.5" r="2.8"/><circle cx="330.7" cy="165.0" r="2.8"/><circle cx="330.9" cy="166.5" r="2.8"/><circle cx="332.2" cy="168.0" r="2.8"/><circle cx="331.3" cy="169.5" r="2.8"/><circle cx="329.8" cy="171.0" r="2.8"/><circle cx="330.7" cy="172.5" r="2.8"/><circle cx="334.8" cy="174.0" r="2.8"/><circle cx="333.7" cy="175.5" r="2.8"/><circle cx="336.6" cy="177.0" r="2.8"/><circle cx="334.8" cy="178.5" r="2.8"/><circle cx="330.1" cy="180.0" r="2.8"/><circle cx="334.3" cy="181.5" r="2.8"/><circle cx="333.8" cy="183.0" r="2.8"/><circle cx="332.0" cy="184.5" r="2.8"/><circle cx="334.4" cy="186.0" r="2.8"/><circle cx="333.1" cy="187.5" r="2.8"/><circle cx="332.2" cy="189.0" r="2.8"/><circle cx="333.6" cy="190.5" r="2.8"/><circle cx="331.9" cy="192.0" r="2.8"/><circle cx="329.7" cy="193.5" r="2.8"/><circle cx="333.2" cy="195.0" r="2.8"/><circle cx="334.7" cy="196.5" r="2.8"/><circle cx="331.4" cy="198.0" r="2.8"/><circle cx="332.6" cy="199.5" r="2.8"/><circle cx="330.0" cy="201.0" r="2.8"/><circle cx="329.2" cy="202.5" r="2.8"/><circle cx="330.5" cy="204.0" r="2.8"/><circle cx="328.9" cy="205.5" r="2.8"/><circle cx="332.2" cy="207.0" r="2.8"/><circle cx="329.7" cy="208.5" r="2.8"/><circle cx="332.8" cy="210.0" r="2.8"/><circle cx="332.5" cy="211.5" r="2.8"/><circle cx="331.9" cy="213.0" r="2.8"/><circle cx="331.0" cy="214.5" r="2.8"/><circle cx="332.7" cy="216.0" r="2.8"/><circle cx="334.7" cy="217.5" r="2.8"/><circle cx="332.3" cy="219.0" r="2.8"/><circle cx="334.9" cy="220.5" r="2.8"/><circle cx="334.0" cy="222.0" r="2.8"/><circle cx="335.1" cy="223.5" r="2.8"/><circle cx="334.9" cy="225.0" r="2.8"/><circle cx="333.9" cy="226.5" r="2.8"/><circle cx="335.2" cy="228.0" r="2.8"/><circle cx="335.2" cy="229.5" r="2.8"/><circle cx="337.5" cy="231.0" r="2.8"/><circle cx="335.2" cy="232.5" r="2.8"/><circle cx="335.1" cy="234.0" r="2.8"/><circle cx="336.5" cy="235.5" r="2.8"/><circle cx="335.7" cy="237.0" r="2.8"/><circle cx="335.2" cy="238.5" r="2.8"/><circle cx="334.0" cy="240.0" r="2.8"/><circle cx="335.1" cy="241.5" r="2.8"/><circle cx="333.6" cy="243.0" r="2.8"/><circle cx="333.9" cy="244.5" r="2.8"/><circle cx="333.9" cy="246.0" r="2.8"/><circle cx="332.0" cy="255.0" r="2.8"/><circle cx="332.0" cy="257.0" r="2.8"/><circle cx="332.0" cy="271.0" r="2.8"/><circle cx="332.0" cy="273.6" r="2.8"/><circle cx="332.0" cy="315.0" r="2.8"/><circle cx="332.0" cy="381.0" r="2.8"/><circle cx="334.0" cy="262.0" r="2.8"/><circle cx="331.0" cy="284.4" r="2.8"/><circle cx="334.0" cy="284.4" r="2.8"/><circle cx="322.6" cy="405.0" r="2.8"/><circle cx="315.4" cy="151.0" r="2.8"/><circle cx="318.0" cy="158.6" r="2.8"/><circle cx="322.6" cy="161.4" r="2.8"/><circle cx="345.0" cy="148.0" r="2.8"/><circle cx="368.0" cy="158.0" r="2.8"/><circle cx="390.4" cy="130.0" r="2.8"/><circle cx="320.0" cy="178.0" r="2.8"/><circle cx="338.0" cy="141.0" r="2.8"/><circle cx="339.0" cy="153.0" r="2.8"/><circle cx="338.6" cy="159.4" r="2.8"/><circle cx="335.5" cy="164.0" r="2.8"/><circle cx="340.0" cy="188.0" r="2.8"/><circle cx="325.0" cy="193.0" r="2.8"/><circle cx="327.0" cy="183.0" r="2.8"/><circle cx="339.0" cy="188.4" r="2.8"/><circle cx="324.0" cy="193.6" r="2.8"/><circle cx="340.0" cy="195.0" r="2.8"/><circle cx="339.0" cy="202.4" r="2.8"/><circle cx="329.0" cy="205.0" r="2.8"/><circle cx="325.0" cy="212.0" r="2.8"/><circle cx="327.0" cy="217.0" r="2.8"/><circle cx="328.0" cy="223.0" r="2.8"/><circle cx="335.0" cy="231.0" r="2.8"/><circle cx="337.0" cy="235.0" r="2.8"/><circle cx="325.0" cy="241.0" r="2.8"/><circle cx="340.0" cy="242.0" r="2.8"/><circle cx="349.0" cy="242.4" r="2.8"/><circle cx="344.0" cy="256.0" r="2.8"/><circle cx="354.4" cy="278.0" r="2.8"/><circle cx="328.0" cy="135.0" r="2.8"/><circle cx="336.0" cy="131.0" r="2.8"/><circle cx="327.5" cy="146.0" r="2.8"/><circle cx="336.0" cy="147.0" r="2.8"/><circle cx="328.0" cy="155.0" r="2.8"/><circle cx="327.0" cy="168.0" r="2.8"/><circle cx="336.5" cy="172.0" r="2.8"/><circle cx="327.5" cy="176.0" r="2.8"/><circle cx="336.0" cy="180.0" r="2.8"/><circle cx="328.5" cy="199.0" r="2.8"/><circle cx="335.5" cy="209.0" r="2.8"/><circle cx="336.0" cy="218.0" r="2.8"/><circle cx="335.5" cy="225.0" r="2.8"/><circle cx="328.0" cy="229.0" r="2.8"/><circle cx="335.0" cy="239.0" r="2.8"/><circle cx="329.0" cy="236.0" r="2.8"/><circle cx="413.2" cy="203.0" r="2.8"/><circle cx="413.2" cy="205.6" r="2.8"/><circle cx="413.2" cy="212.4" r="2.8"/><circle cx="413.2" cy="213.5" r="2.8"/><circle cx="413.2" cy="235.0" r="2.8"/><circle cx="413.2" cy="238.0" r="2.8"/><circle cx="413.2" cy="258.4" r="2.8"/><circle cx="413.2" cy="307.0" r="2.8"/><circle cx="440.3" cy="116.0" r="2.8"/><circle cx="440.3" cy="122.0" r="2.8"/><circle cx="440.6" cy="130.0" r="2.8"/><circle cx="440.1" cy="131.8" r="2.8"/><circle cx="440.6" cy="133.6" r="2.8"/><circle cx="440.0" cy="135.4" r="2.8"/><circle cx="440.4" cy="137.2" r="2.8"/><circle cx="440.4" cy="139.0" r="2.8"/><circle cx="440.2" cy="140.8" r="2.8"/><circle cx="440.6" cy="142.6" r="2.8"/><circle cx="440.4" cy="144.4" r="2.8"/><circle cx="440.4" cy="146.2" r="2.8"/><circle cx="440.6" cy="148.0" r="2.8"/><circle cx="440.0" cy="149.8" r="2.8"/><circle cx="440.7" cy="151.6" r="2.8"/><circle cx="440.4" cy="153.4" r="2.8"/><circle cx="440.2" cy="155.2" r="2.8"/><circle cx="440.6" cy="157.0" r="2.8"/><circle cx="440.1" cy="158.8" r="2.8"/><circle cx="440.7" cy="160.6" r="2.8"/><circle cx="440.4" cy="162.4" r="2.8"/><circle cx="440.2" cy="164.2" r="2.8"/><circle cx="440.5" cy="166.0" r="2.8"/><circle cx="440.3" cy="167.8" r="2.8"/><circle cx="440.1" cy="169.6" r="2.8"/><circle cx="440.5" cy="171.4" r="2.8"/><circle cx="440.0" cy="173.2" r="2.8"/><circle cx="440.6" cy="175.0" r="2.8"/><circle cx="440.1" cy="176.8" r="2.8"/><circle cx="440.4" cy="178.6" r="2.8"/><circle cx="440.7" cy="180.4" r="2.8"/><circle cx="440.4" cy="182.2" r="2.8"/><circle cx="440.5" cy="184.0" r="2.8"/><circle cx="440.2" cy="185.8" r="2.8"/><circle cx="439.9" cy="187.6" r="2.8"/><circle cx="440.0" cy="189.4" r="2.8"/><circle cx="440.0" cy="191.2" r="2.8"/><circle cx="440.4" cy="193.0" r="2.8"/><circle cx="440.3" cy="194.8" r="2.8"/><circle cx="440.3" cy="196.6" r="2.8"/><circle cx="440.6" cy="198.4" r="2.8"/><circle cx="440.0" cy="200.2" r="2.8"/><circle cx="440.1" cy="202.0" r="2.8"/><circle cx="440.5" cy="203.8" r="2.8"/><circle cx="440.5" cy="183.1" r="2.8"/><circle cx="440.4" cy="166.9" r="2.8"/><circle cx="439.3" cy="197.9" r="2.8"/><circle cx="441.7" cy="198.3" r="2.8"/><circle cx="441.3" cy="190.9" r="2.8"/><circle cx="443.5" cy="168.8" r="2.8"/><circle cx="442.0" cy="169.7" r="2.8"/><circle cx="439.6" cy="166.2" r="2.8"/><circle cx="437.2" cy="210.8" r="2.8"/><circle cx="436.6" cy="186.1" r="2.8"/><circle cx="440.3" cy="201.9" r="2.8"/><circle cx="440.7" cy="196.6" r="2.8"/><circle cx="438.3" cy="188.8" r="2.8"/><circle cx="443.1" cy="220.9" r="2.8"/><circle cx="440.1" cy="218.7" r="2.8"/><circle cx="438.5" cy="162.9" r="2.8"/><circle cx="437.9" cy="175.4" r="2.8"/><circle cx="439.8" cy="163.8" r="2.8"/><circle cx="440.4" cy="195.8" r="2.8"/><circle cx="440.0" cy="221.2" r="2.8"/><circle cx="441.3" cy="199.5" r="2.8"/><circle cx="441.6" cy="193.0" r="2.8"/><circle cx="437.6" cy="171.4" r="2.8"/><circle cx="436.9" cy="180.1" r="2.8"/><circle cx="440.1" cy="217.8" r="2.8"/><circle cx="441.0" cy="210.9" r="2.8"/><circle cx="440.3" cy="214.9" r="2.8"/><circle cx="440.1" cy="208.4" r="2.8"/><circle cx="436.5" cy="189.4" r="2.8"/><circle cx="441.2" cy="174.7" r="2.8"/><circle cx="441.2" cy="196.0" r="2.8"/><circle cx="441.7" cy="197.7" r="2.8"/><circle cx="440.2" cy="199.4" r="2.8"/><circle cx="441.0" cy="201.1" r="2.8"/><circle cx="442.4" cy="202.8" r="2.8"/><circle cx="440.3" cy="204.5" r="2.8"/><circle cx="439.1" cy="206.2" r="2.8"/><circle cx="436.5" cy="207.9" r="2.8"/><circle cx="440.2" cy="209.6" r="2.8"/><circle cx="439.9" cy="211.3" r="2.8"/><circle cx="441.2" cy="213.0" r="2.8"/><circle cx="441.1" cy="214.7" r="2.8"/><circle cx="441.7" cy="216.4" r="2.8"/><circle cx="440.5" cy="218.1" r="2.8"/><circle cx="440.6" cy="219.8" r="2.8"/><circle cx="439.6" cy="221.5" r="2.8"/><circle cx="441.4" cy="223.2" r="2.8"/><circle cx="441.1" cy="224.9" r="2.8"/><circle cx="441.7" cy="226.6" r="2.8"/><circle cx="440.8" cy="228.3" r="2.8"/><circle cx="441.7" cy="230.0" r="2.8"/><circle cx="440.6" cy="231.7" r="2.8"/><circle cx="440.9" cy="233.4" r="2.8"/><circle cx="441.4" cy="235.1" r="2.8"/><circle cx="441.6" cy="236.8" r="2.8"/><circle cx="441.9" cy="238.5" r="2.8"/><circle cx="443.1" cy="240.2" r="2.8"/><circle cx="440.6" cy="241.9" r="2.8"/><circle cx="440.9" cy="243.6" r="2.8"/><circle cx="439.9" cy="245.3" r="2.8"/><circle cx="439.8" cy="247.0" r="2.8"/><circle cx="440.9" cy="248.7" r="2.8"/><circle cx="441.1" cy="250.4" r="2.8"/><circle cx="442.2" cy="252.1" r="2.8"/><circle cx="442.3" cy="253.8" r="2.8"/><circle cx="443.7" cy="255.5" r="2.8"/><circle cx="442.3" cy="257.2" r="2.8"/><circle cx="442.4" cy="258.9" r="2.8"/><circle cx="442.9" cy="260.6" r="2.8"/><circle cx="444.0" cy="262.3" r="2.8"/><circle cx="443.6" cy="264.0" r="2.8"/><circle cx="442.3" cy="265.7" r="2.8"/><circle cx="442.4" cy="267.4" r="2.8"/><circle cx="440.7" cy="269.1" r="2.8"/><circle cx="441.8" cy="270.8" r="2.8"/><circle cx="438.4" cy="272.5" r="2.8"/><circle cx="438.5" cy="274.2" r="2.8"/><circle cx="438.6" cy="275.9" r="2.8"/><circle cx="438.1" cy="277.6" r="2.8"/><circle cx="437.9" cy="279.3" r="2.8"/><circle cx="440.8" cy="281.0" r="2.8"/><circle cx="441.7" cy="282.7" r="2.8"/><circle cx="440.9" cy="284.4" r="2.8"/><circle cx="442.4" cy="286.1" r="2.8"/><circle cx="441.1" cy="287.8" r="2.8"/><circle cx="440.0" cy="289.5" r="2.8"/><circle cx="439.7" cy="291.2" r="2.8"/><circle cx="439.4" cy="292.9" r="2.8"/><circle cx="439.4" cy="294.6" r="2.8"/><circle cx="440.5" cy="296.3" r="2.8"/><circle cx="442.0" cy="298.0" r="2.8"/><circle cx="440.3" cy="305.0" r="2.8"/><circle cx="440.3" cy="311.0" r="2.8"/><circle cx="440.3" cy="313.6" r="2.8"/><circle cx="440.3" cy="327.0" r="2.8"/><circle cx="440.3" cy="364.3" r="2.8"/><circle cx="440.3" cy="394.6" r="2.8"/><circle cx="440.3" cy="411.9" r="2.8"/><circle cx="440.3" cy="454.8" r="2.8"/><circle cx="435.6" cy="472.5" r="2.8"/><circle cx="390.4" cy="129.6" r="2.8"/><circle cx="368.0" cy="157.6" r="2.8"/><circle cx="413.0" cy="150.0" r="2.8"/><circle cx="431.0" cy="153.6" r="2.8"/><circle cx="436.0" cy="145.0" r="2.8"/><circle cx="436.0" cy="147.5" r="2.8"/><circle cx="438.0" cy="139.0" r="2.8"/><circle cx="443.0" cy="144.4" r="2.8"/><circle cx="435.6" cy="165.0" r="2.8"/><circle cx="447.0" cy="168.0" r="2.8"/><circle cx="433.6" cy="178.0" r="2.8"/><circle cx="446.4" cy="178.0" r="2.8"/><circle cx="454.4" cy="178.0" r="2.8"/><circle cx="448.0" cy="181.0" r="2.8"/><circle cx="460.6" cy="184.0" r="2.8"/><circle cx="433.0" cy="184.0" r="2.8"/><circle cx="430.0" cy="197.6" r="2.8"/><circle cx="436.0" cy="200.0" r="2.8"/><circle cx="431.0" cy="211.0" r="2.8"/><circle cx="446.0" cy="206.0" r="2.8"/><circle cx="445.0" cy="198.0" r="2.8"/><circle cx="435.0" cy="211.0" r="2.8"/><circle cx="465.0" cy="223.0" r="2.8"/><circle cx="435.0" cy="225.0" r="2.8"/><circle cx="447.0" cy="226.0" r="2.8"/><circle cx="451.0" cy="229.0" r="2.8"/><circle cx="433.0" cy="231.0" r="2.8"/><circle cx="448.0" cy="237.0" r="2.8"/><circle cx="435.0" cy="237.0" r="2.8"/><circle cx="431.6" cy="248.0" r="2.8"/><circle cx="447.0" cy="254.0" r="2.8"/><circle cx="446.0" cy="260.0" r="2.8"/><circle cx="445.0" cy="268.0" r="2.8"/><circle cx="443.5" cy="278.0" r="2.8"/><circle cx="435.6" cy="294.0" r="2.8"/><circle cx="449.0" cy="293.6" r="2.8"/><circle cx="429.4" cy="302.6" r="2.8"/><circle cx="448.4" cy="302.0" r="2.8"/><circle cx="436.5" cy="190.0" r="2.8"/><circle cx="444.5" cy="188.0" r="2.8"/><circle cx="436.0" cy="205.5" r="2.8"/><circle cx="444.5" cy="214.0" r="2.8"/><circle cx="436.5" cy="218.0" r="2.8"/><circle cx="444.5" cy="220.0" r="2.8"/><circle cx="437.0" cy="243.0" r="2.8"/><circle cx="444.0" cy="245.0" r="2.8"/><circle cx="436.5" cy="252.0" r="2.8"/><circle cx="437.0" cy="262.0" r="2.8"/><circle cx="437.0" cy="272.0" r="2.8"/><circle cx="444.0" cy="232.0" r="2.8"/><circle cx="437.0" cy="283.0" r="2.8"/><circle cx="443.5" cy="287.0" r="2.8"/><circle cx="765.4" cy="135.5" r="2.8"/><circle cx="765.4" cy="161.9" r="2.8"/><circle cx="765.4" cy="221.5" r="2.8"/><circle cx="765.4" cy="226.0" r="2.8"/><circle cx="765.4" cy="230.3" r="2.8"/><circle cx="765.4" cy="234.8" r="2.8"/><circle cx="765.4" cy="240.0" r="2.8"/><circle cx="765.4" cy="277.0" r="2.8"/><circle cx="765.4" cy="281.2" r="2.8"/><circle cx="765.4" cy="285.6" r="2.8"/><circle cx="765.4" cy="290.3" r="2.8"/><circle cx="765.4" cy="175.0" r="2.8"/><circle cx="765.4" cy="178.6" r="2.8"/><circle cx="765.4" cy="193.8" r="2.8"/><circle cx="765.4" cy="197.6" r="2.8"/><circle cx="765.4" cy="211.3" r="2.8"/><circle cx="765.4" cy="219.4" r="2.8"/><circle cx="765.4" cy="223.8" r="2.8"/><circle cx="765.4" cy="228.0" r="2.8"/><circle cx="765.4" cy="232.5" r="2.8"/><circle cx="765.4" cy="237.0" r="2.8"/><circle cx="765.4" cy="242.7" r="2.8"/><circle cx="765.4" cy="248.5" r="2.8"/><circle cx="765.4" cy="257.3" r="2.8"/><circle cx="765.4" cy="265.4" r="2.8"/><circle cx="765.4" cy="269.0" r="2.8"/><circle cx="765.4" cy="274.8" r="2.8"/><circle cx="765.4" cy="279.0" r="2.8"/><circle cx="765.4" cy="283.5" r="2.8"/><circle cx="765.4" cy="287.9" r="2.8"/><circle cx="765.4" cy="292.8" r="2.8"/><circle cx="765.4" cy="283.0" r="2.8"/><circle cx="765.4" cy="287.3" r="2.8"/><circle cx="765.4" cy="293.0" r="2.8"/><circle cx="765.4" cy="310.6" r="2.8"/><circle cx="765.4" cy="316.4" r="2.8"/><circle cx="765.4" cy="324.3" r="2.8"/><circle cx="765.4" cy="335.3" r="2.8"/><circle cx="765.4" cy="338.3" r="2.8"/><circle cx="765.4" cy="341.8" r="2.8"/><circle cx="765.4" cy="345.5" r="2.8"/><circle cx="765.4" cy="348.5" r="2.8"/><circle cx="765.4" cy="354.3" r="2.8"/><circle cx="765.4" cy="358.6" r="2.8"/><circle cx="765.4" cy="369.4" r="2.8"/><circle cx="765.4" cy="380.5" r="2.8"/><circle cx="765.4" cy="388.7" r="2.8"/><circle cx="765.4" cy="399.4" r="2.8"/><circle cx="765.4" cy="415.7" r="2.8"/><circle cx="765.4" cy="431.8" r="2.8"/></g>
<path d="M115.0,201.5C115.8,200.2 118.2,196.5 120.0,194.0C121.8,191.5 123.8,189.0 126.0,186.3C128.2,183.6 130.3,180.9 133.0,177.8C135.7,174.7 139.3,170.4 142.0,167.6C144.7,164.8 146.7,163.0 149.0,161.0C151.3,159.0 153.7,157.2 156.0,155.6C158.3,154.0 160.8,152.6 163.0,151.5C165.2,150.4 166.9,149.7 169.4,149.0C171.9,148.3 174.6,147.6 178.0,147.6C181.4,147.6 185.5,148.3 190.0,149.0C194.5,149.7 199.5,150.9 205.0,152.0C210.5,153.1 215.5,154.1 223.0,155.6C230.5,157.1 241.0,159.3 250.0,161.0C259.0,162.7 263.3,163.5 277.0,166.0C290.7,168.5 318.2,173.5 332.0,176.0C345.8,178.5 348.7,179.2 360.0,181.0C371.3,182.8 386.7,185.1 400.0,187.0C413.3,188.9 424.3,190.4 440.0,192.5C455.7,194.6 476.0,197.2 494.0,199.5C512.0,201.8 530.0,203.9 548.0,206.0C566.0,208.1 584.0,210.0 602.0,211.8C620.0,213.6 638.0,215.3 656.0,217.0C674.0,218.7 691.8,220.2 710.0,221.7C728.2,223.2 755.8,225.3 765.0,226.0" fill="none" stroke="#000" stroke-width="4.3"/>
<rect x="83.0" y="0.6" width="714.8" height="634.8" fill="none" stroke="#1a1a1a" stroke-width="2.1"/>
<g><line x1="78.3" y1="28.8" x2="82.2" y2="28.8" stroke="#1a1a1a" stroke-width="2.2"/><line x1="78.3" y1="163.0" x2="82.2" y2="163.0" stroke="#1a1a1a" stroke-width="2.2"/><line x1="78.3" y1="297.6" x2="82.2" y2="297.6" stroke="#1a1a1a" stroke-width="2.2"/><line x1="78.3" y1="432.0" x2="82.2" y2="432.0" stroke="#1a1a1a" stroke-width="2.2"/><line x1="78.3" y1="566.4" x2="82.2" y2="566.4" stroke="#1a1a1a" stroke-width="2.2"/><line x1="115.2" y1="636" x2="115.2" y2="640.2" stroke="#1a1a1a" stroke-width="2.2"/><line x1="223.6" y1="636" x2="223.6" y2="640.2" stroke="#1a1a1a" stroke-width="2.2"/><line x1="332.0" y1="636" x2="332.0" y2="640.2" stroke="#1a1a1a" stroke-width="2.2"/><line x1="440.3" y1="636" x2="440.3" y2="640.2" stroke="#1a1a1a" stroke-width="2.2"/><line x1="548.7" y1="636" x2="548.7" y2="640.2" stroke="#1a1a1a" stroke-width="2.2"/><line x1="657.0" y1="636" x2="657.0" y2="640.2" stroke="#1a1a1a" stroke-width="2.2"/><line x1="765.4" y1="636" x2="765.4" y2="640.2" stroke="#1a1a1a" stroke-width="2.2"/></g>
<g><text transform="translate(75.4,34.9) scale(1,1.06)" font-size="19" text-anchor="end">100.00</text><text transform="translate(74.3,169.1) scale(1,1.06)" font-size="19" text-anchor="end">10.00</text><text transform="translate(71.1,303.7) scale(1,1.06)" font-size="19" text-anchor="end">1.00</text><text transform="translate(71.2,438.1) scale(1,1.06)" font-size="19" text-anchor="end">0.10</text><text transform="translate(70.8,572.5) scale(1,1.06)" font-size="19" text-anchor="end">0.01</text><text transform="translate(115.2,657.2) scale(1,1.06)" font-size="19" text-anchor="middle">0</text><text transform="translate(223.6,657.2) scale(1,1.06)" font-size="19" text-anchor="middle">4</text><text transform="translate(332.0,657.2) scale(1,1.06)" font-size="19" text-anchor="middle">8</text><text transform="translate(440.3,657.2) scale(1,1.06)" font-size="19" text-anchor="middle">12</text><text transform="translate(548.7,657.2) scale(1,1.06)" font-size="19" text-anchor="middle">16</text><text transform="translate(657.0,657.2) scale(1,1.06)" font-size="19" text-anchor="middle">20</text><text transform="translate(764.4,657.2) scale(1,1.06)" font-size="19" text-anchor="middle">24</text><text x="445.5" y="680.7" font-size="19.2" text-anchor="middle">Time (Hr)</text><text transform="translate(14.6,435.4) rotate(-90)" font-size="18.95" text-anchor="start">LPV Concentration</text><text transform="translate(14.6,257.9) rotate(-90)" font-size="19.4" letter-spacing="0.4" text-anchor="start">(µg/mL)</text></g>
</svg></body></html>
